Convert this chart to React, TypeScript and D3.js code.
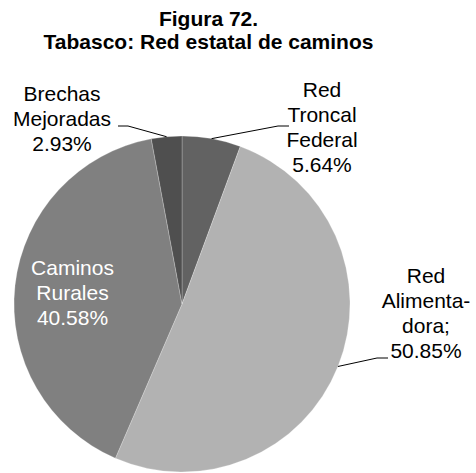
import * as d3 from "d3";
import { useRef, useEffect } from "react";

const categories = [
  "Red Troncal Federal",
  "Red Alimentadora",
  "Caminos Rurales",
  "Brechas Mejoradas",
];
const values = [5.64, 50.85, 40.58, 2.93];
const labelLines = [
  ["Red", "Troncal", "Federal", "5.64%"],
  ["Red", "Alimenta-", "dora;", "50.85%"],
  ["Caminos", "Rurales", "40.58%"],
  ["Brechas", "Mejoradas", "2.93%"],
];
const colors = ["#626262", "#b2b2b2", "#808080", "#4f4f4f"];
const titleLines = ["Figura 72.", "Tabasco: Red estatal de caminos"];

// label placement: centre x, first baseline, leader elbow / end (null = inside)
const labelLayout = [
  { x: 322, y: 96.5, elbow: [278, 126], end: [289, 126] },
  { x: 426, y: 283, elbow: [377, 358], end: [388, 358] },
  { x: 72.5, y: 275, elbow: null, end: null },
  { x: 62, y: 100.5, elbow: [128, 126], end: [118, 126] },
];

const W = 476;
const H = 473;

function draw(svgEl: SVGSVGElement | null) {
  if (!svgEl) return;
  const svg = d3.select(svgEl);
  svg.selectAll("*").remove();

  const cx = 182;
  const cy = 304;
  const radius = 168;
  const font = "'Liberation Sans', Arial, sans-serif";

  // title
  svg
    .append("g")
    .attr("font-family", font)
    .attr("font-weight", "bold")
    .attr("font-size", 21)
    .attr("text-anchor", "middle")
    .selectAll("text")
    .data(titleLines)
    .join("text")
    .attr("x", 208.5)
    .attr("y", (_d, i) => 25.5 + i * 23)
    .attr("fill", "#000")
    .text((d) => d);

  const pie = d3
    .pie<number>()
    .sort(null)
    .value((d) => d);
  const arcs = pie(values);

  const arc = d3
    .arc<d3.PieArcDatum<number>>()
    .innerRadius(0)
    .outerRadius(radius);

  const g = svg.append("g").attr("transform", `translate(${cx},${cy})`);

  g.selectAll("path")
    .data(arcs)
    .join("path")
    .attr("d", arc)
    .attr("fill", (_d, i) => colors[i])
    .attr("stroke", "rgba(255,255,255,0.3)")
    .attr("stroke-width", 0.8);

  // leader lines
  arcs.forEach((a, i) => {
    const lay = labelLayout[i];
    if (!lay.elbow || !lay.end) return;
    const mid = (a.startAngle + a.endAngle) / 2;
    const px = cx + radius * Math.sin(mid);
    const py = cy - radius * Math.cos(mid);
    svg
      .append("polyline")
      .attr(
        "points",
        `${px},${py} ${lay.elbow[0]},${lay.elbow[1]} ${lay.end[0]},${lay.end[1]}`
      )
      .attr("fill", "none")
      .attr("stroke", "#000")
      .attr("stroke-width", 1);
  });

  // labels
  labelLines.forEach((lines, i) => {
    const lay = labelLayout[i];
    svg
      .append("text")
      .attr("font-family", font)
      .attr("font-size", 21)
      .attr("text-anchor", "middle")
      .attr("fill", lay.elbow ? "#000" : "#fff")
      .attr("aria-label", categories[i])
      .selectAll("tspan")
      .data(lines)
      .join("tspan")
      .attr("x", lay.x)
      .attr("y", (_d, j) => lay.y + j * 25)
      .text((d) => d);
  });
}

const App = () => {
  const ref = useRef<SVGSVGElement | null>(null);

  useEffect(() => {
    draw(ref.current);
  }, []);

  return (
    <svg
      ref={ref}
      width={W}
      height={H}
      style={{ position: "absolute", left: 0, top: 0, background: "#fff" }}
    ></svg>
  );
};

export default App;
